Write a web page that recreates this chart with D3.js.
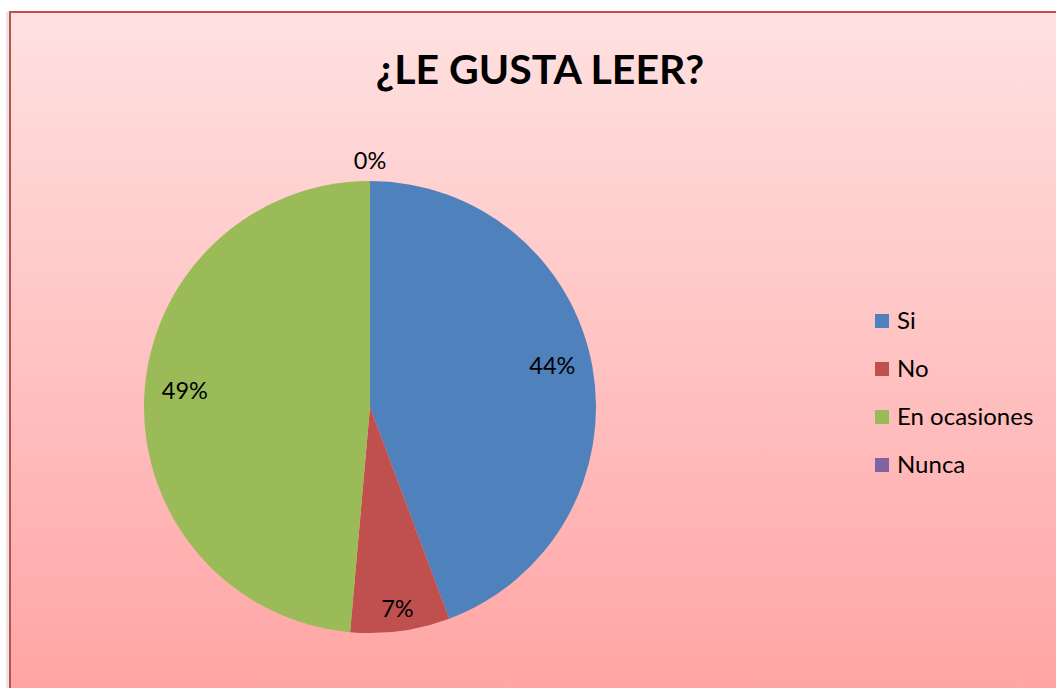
<!DOCTYPE html>
<html>
<head>
<meta charset="utf-8">
<script src="https://cdn.jsdelivr.net/npm/d3@7"></script>
<style>
  html, body { margin: 0; padding: 0; background: #ffffff; }
  svg { display: block; font-family: Lato, "Noto Sans", sans-serif; }
</style>
</head>
<body>
<div id="chart"></div>
<script>
// chart data
const title = "¿LE GUSTA LEER?";
const categories = ["Si", "No", "En ocasiones", "Nunca"];
const values = [44.3, 7.1, 48.6, 0];
const colors = ["#4f81bd", "#c0504d", "#9bbb59", "#8064a2"];

const W = 1056, H = 688;

const svg = d3.select("#chart")
    .append("svg")
    .attr("width", W)
    .attr("height", H);

// background gradient (light pink to salmon)
const defs = svg.append("defs");
const grad = defs.append("linearGradient")
    .attr("id", "bg")
    .attr("x1", 0).attr("y1", 0)
    .attr("x2", 0).attr("y2", 1);
grad.append("stop").attr("offset", "0%").attr("stop-color", "#ffe1e1");
grad.append("stop").attr("offset", "100%").attr("stop-color", "#ffa2a2");

// soft shadow on the left edge
svg.append("rect")
    .attr("x", 6).attr("y", 12)
    .attr("width", 4).attr("height", H)
    .attr("fill", "#e6e6e6");

svg.append("rect")
    .attr("x", 10).attr("y", 12)
    .attr("width", W + 20).attr("height", H + 20)
    .attr("fill", "url(#bg)")
    .attr("stroke", "#c0504d")
    .attr("stroke-width", 2);

svg.append("text")
    .attr("x", 540)
    .attr("y", 84)
    .attr("text-anchor", "middle")
    .style("font-size", "41px")
    .style("font-weight", "bold")
    .attr("fill", "#000")
    .text(title);

// pie
const cx = 370, cy = 407, r = 226;
const total = d3.sum(values);
const data = categories.map((c, i) => ({ name: c, value: values[i], color: colors[i] }));

const pie = d3.pie()
    .value(d => d.value)
    .sort(null);

const arcs = pie(data);
const arc = d3.arc().innerRadius(0).outerRadius(r);

const g = svg.append("g")
    .attr("transform", `translate(${cx},${cy})`);

g.selectAll("path")
    .data(arcs)
    .join("path")
    .attr("d", arc)
    .attr("fill", d => d.data.color);

const fmt = d3.format(".0%");

// labels: inside for normal slices, pushed outwards for small ones, outside for empty ones
function labelRadius(d) {
    const share = d.data.value / total;
    if (share === 0) return r + 20;
    if (share < 0.1) return r * 0.9;
    return r * 0.82;
}

g.selectAll("text.lbl")
    .data(arcs)
    .join("text")
    .attr("class", "lbl")
    .attr("transform", d => {
        const a = (d.startAngle + d.endAngle) / 2;
        const lr = labelRadius(d);
        return `translate(${Math.sin(a) * lr},${-Math.cos(a) * lr})`;
    })
    .attr("text-anchor", "middle")
    .attr("dy", d => d.data.value / total >= 0.1 ? "0" : "0.35em")
    .style("font-size", "23.5px")
    .attr("fill", "#000")
    .text(d => fmt(d.data.value / total));

// legend
const legend = svg.append("g")
    .attr("transform", "translate(875,321)");

const item = legend.selectAll("g")
    .data(data)
    .join("g")
    .attr("transform", (d, i) => `translate(0,${i * 48})`);

item.append("rect")
    .attr("x", 0).attr("y", -7)
    .attr("width", 14).attr("height", 14)
    .attr("fill", d => d.color);

item.append("text")
    .attr("x", 22)
    .attr("dy", "0.35em")
    .style("font-size", "24px")
    .attr("fill", "#000")
    .text(d => d.name);
</script>
</body>
</html>
